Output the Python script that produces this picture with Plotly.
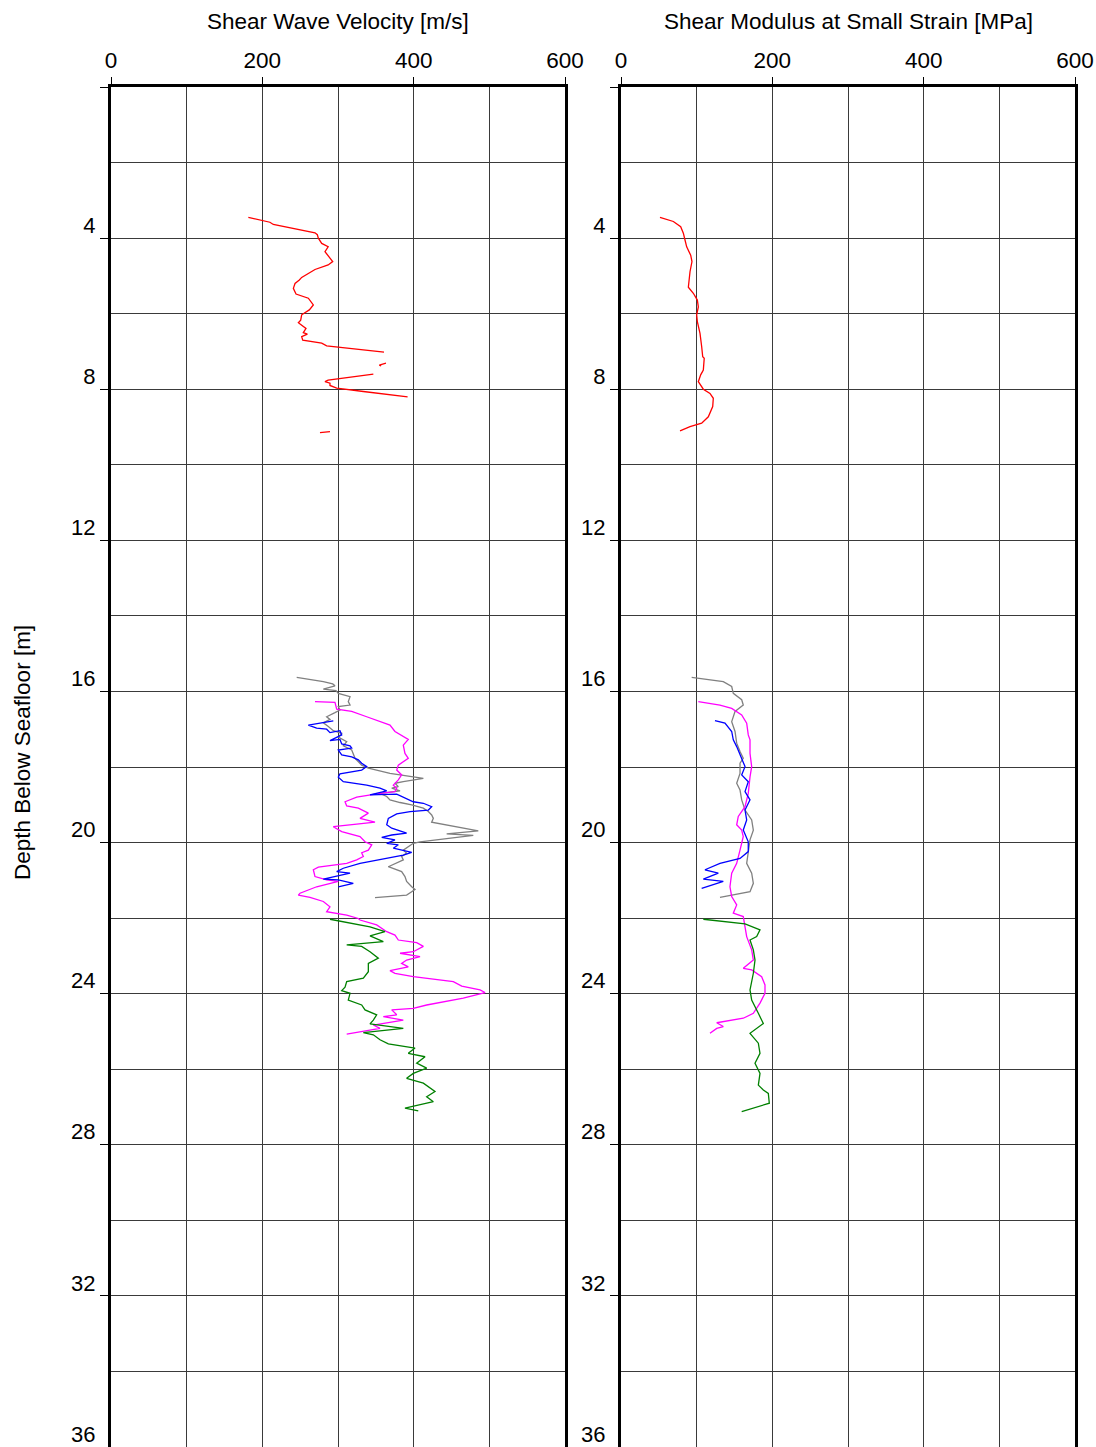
import plotly.graph_objects as go

# ---------------- DATA ----------------
# Shear wave velocity (left panel) [m/s] vs depth [m]
vs_red_depth = [3.45, 3.52, 3.58, 3.64, 3.86, 3.91, 4.00, 4.14, 4.23, 4.36, 4.51, 4.62, 4.71, 4.83, 4.91, 5.04, 5.11, 5.20, 5.33, 5.48, 5.59, 5.68, 5.77, 5.90, 6.03, 6.17, 6.24, 6.39, 6.50, 6.54, 6.61, 6.70, 6.78, 6.85, 7.02,
                None, 7.38, 7.36, 7.31,
                None, 7.60, 7.76, 7.80, 7.84, 7.90, 7.97, 8.06, 8.20,
                None, 9.15, 9.12]
vs_red = [181.5, 199, 210, 214.5, 269.6, 272.7, 274, 278.5, 287, 282.8, 289.4, 293, 287, 269.6, 263, 252, 248.9, 243.2, 241, 244.5, 260.8, 263.9, 267.4, 262.1, 252, 250.7, 247.6, 257.7, 254.2, 259.5, 252, 253.4, 278.5, 285, 360.8,
          None, 357, 354.6, 363.4,
          None, 346.7, 287, 282.8, 289.4, 289.4, 298.3, 333.5, 392,
          None, 276.2, 289.4]

vs_gray_depth = [15.63, 15.74, 15.80, 15.85, 15.94, 15.98, 16.05, 16.14, 16.27, 16.36, 16.40, 16.49, 16.56, 16.67, 16.74, 16.83, 16.93, 17.04, 17.11, 17.21, 17.33, 17.44, 17.55, 17.77, 17.95, 18.03, 18.17, 18.30, 18.39, 18.43, 18.52, 18.56, 18.63, 18.70, 18.78, 18.87, 18.94, 19.00, 19.09, 19.18, 19.27, 19.36, 19.46, 19.58, 19.69, 19.77, 19.81, 19.98, 20.02, 20.20, 20.28, 20.37, 20.46, 20.64, 20.77, 20.90, 21.03, 21.17, 21.24, 21.30, 21.39, 21.46]
vs_gray = [245.4, 280.6, 293, 296, 280.6, 297.4, 300.4, 315.9, 313.6, 315.9, 300.4, 302.6, 296, 285, 289.4, 280.6, 287.2, 293.8, 304.9, 300.4, 311.5, 307, 318.1, 322.5, 331.3, 340.1, 368.7, 412.8, 386.3, 375.3, 379.7, 371, 382, 355.5, 364.4, 368.7, 382, 397.4, 412.8, 419.4, 423.8, 426, 423.8, 456.9, 485.4, 443.6, 478.8, 408.4, 399.5, 386.3, 390.7, 384.1, 386.3, 366.5, 384.1, 388.5, 390.7, 397.4, 401.8, 397.4, 390.7, 348.9]

vs_blue_depth = [16.78, 16.82, 16.89, 16.97, 17.00, 17.09, 17.04, 17.15, 17.30, 17.27, 17.39, 17.44, 17.50, 17.55, 17.68, 17.73, 17.81, 17.90, 17.99, 18.08, 18.18, 18.27, 18.39, 18.48, 18.56, 18.63, 18.74, 18.72, 18.78, 18.92, 18.96, 19.05, 19.14, 19.18, 19.24, 19.36, 19.53, 19.62, 19.75, 19.80, 19.86, 19.93, 20.02, 20.06, 20.15, 20.26, 20.33, 20.37, 20.46, 20.55, 20.68, 20.77, 20.81, 20.97, 20.99, 21.08, 21.17]
vs_blue = [293.8, 282.8, 260.8, 271.8, 285, 289.4, 302.6, 304.9, 289.4, 302.6, 304.9, 315.9, 318.1, 300.4, 304.9, 318.1, 326.9, 331.3, 337.9, 331.3, 302.6, 300.4, 307, 337.9, 355.5, 364.4, 342.3, 377.6, 384.1, 399.5, 412.8, 423.8, 419.4, 395.2, 377.6, 366.5, 364.4, 371, 390.7, 371, 357.8, 375.3, 364.4, 379.7, 373.1, 397.4, 386.3, 375.3, 355.5, 329.1, 307, 298.3, 315.9, 280.6, 300.4, 320.2, 300.4]

vs_mag_depth = [16.27, 16.29, 16.47, 16.53, 16.67, 16.89, 17.06, 17.27, 17.42, 17.64, 17.77, 17.95, 18.08, 18.21, 18.34, 18.48, 18.56, 18.65, 18.70, 18.74, 18.80, 18.92, 19.03, 19.09, 19.22, 19.36, 19.46, 19.51, 19.58, 19.71, 19.77, 19.84, 19.98, 20.06, 20.20, 20.27, 20.37, 20.46, 20.55, 20.65, 20.72, 20.90, 20.99, 21.03, 21.17, 21.34, 21.39, 21.45, 21.56, 21.70, 21.83, 21.92, 22.01, 22.05, 22.18, 22.36, 22.45, 22.58, 22.65, 22.75, 22.89, 22.93, 23.02, 23.11, 23.20, 23.29, 23.39, 23.46, 23.55, 23.68, 23.80, 23.90, 23.97, 24.12, 24.30, 24.39, 24.43, 24.56, 24.61, 24.70, 24.83, 24.92, 25.07]
vs_mag = [269.6, 296, 298.3, 318.1, 337.9, 368.7, 375.3, 392.9, 386.3, 388.5, 392.9, 379.7, 377.6, 384.1, 379.7, 373.1, 377.6, 375.3, 355.5, 340.1, 324.7, 309.3, 311.5, 326.9, 340.1, 329.1, 348.9, 324.7, 293.8, 304.9, 315.9, 329.1, 335.7, 344.6, 340.1, 331.3, 333.5, 324.7, 311.5, 274, 267.4, 269.6, 285, 300.4, 271.8, 249.8, 247.6, 263, 280.6, 289.4, 285, 311.5, 326.9, 329.1, 351.1, 364.4, 375.3, 379.7, 404, 412.8, 399.5, 382, 408.4, 390.7, 384.1, 392.9, 368.7, 375.3, 399.5, 452.4, 463.5, 487.7, 494.3, 465.6, 417.2, 399.5, 371, 377.6, 359.9, 386.3, 346.7, 355.5, 311.5]

vs_green_depth = [22.03, 22.09, 22.23, 22.36, 22.47, 22.62, 22.71, 22.75, 22.89, 23.06, 23.20, 23.42, 23.59, 23.68, 23.83, 23.92, 23.99, 24.17, 24.30, 24.43, 24.56, 24.70, 24.80, 24.92, 25.03, 25.09, 25.22, 25.33, 25.44, 25.58, 25.67, 25.84, 25.97, 26.11, 26.24, 26.37, 26.59, 26.73, 26.86, 27.03, 27.10]
vs_green = [289.4, 304.9, 342.3, 362.1, 342.3, 359.9, 311.5, 331.3, 342.3, 353.3, 340.1, 340.1, 333.5, 311.5, 309.3, 304.9, 315.9, 313.6, 331.3, 335.7, 351.1, 346.7, 342.3, 386.3, 333.5, 346.7, 355.5, 366.5, 401.8, 392.9, 415, 404, 417.2, 399.5, 390.7, 412.8, 428.2, 417.2, 426, 388.5, 406.1]

# Shear modulus at small strain (right panel) [MPa] vs depth [m]
g_red_depth = [3.45, 3.56, 3.70, 3.87, 4.05, 4.23, 4.45, 4.62, 4.89, 5.11, 5.30, 5.46, 5.64, 5.82, 6.03, 6.21, 6.52, 6.87, 7.14, 7.18, 7.49, 7.62, 7.80, 8.00, 8.11, 8.24, 8.46, 8.73, 8.90, 8.99, 9.10]
g_red = [51.5, 69.2, 78.9, 82.4, 84.6, 86.8, 92.1, 93.8, 91.2, 90.3, 89, 95.6, 100.9, 102.2, 100, 100.9, 104.4, 106.6, 108, 110, 108.8, 105.3, 102.2, 108.8, 117.6, 122, 121.2, 115.4, 106.6, 91.2, 78]

g_gray_depth = [15.63, 15.74, 15.87, 16.05, 16.22, 16.36, 16.53, 16.80, 17.06, 17.37, 17.59, 17.77, 17.90, 18.17, 18.43, 18.61, 18.87, 19.14, 19.40, 19.67, 19.93, 20.24, 20.55, 20.81, 21.08, 21.30, 21.45]
g_gray = [93.4, 135.2, 146.3, 148.4, 159.5, 161.6, 150.7, 146.3, 150.7, 152.9, 157.3, 161.6, 157.3, 157.3, 152.9, 157.3, 159.5, 163.9, 172.7, 174.9, 170.5, 168.2, 166.1, 172.7, 174.9, 170.5, 130.8]

g_blue_depth = [16.77, 16.84, 17.06, 17.28, 17.46, 17.68, 17.99, 18.21, 18.39, 18.65, 18.87, 19.14, 19.40, 19.67, 19.98, 20.24, 20.42, 20.55, 20.72, 20.81, 20.97, 21.03, 21.21]
g_blue = [124.2, 137.4, 146.3, 148.4, 152.9, 157.3, 163.9, 159.5, 168.2, 163.9, 170.5, 163.9, 166.1, 161.6, 168.2, 168.2, 157.3, 130.8, 111, 128.6, 108.8, 135.2, 106.6]

g_mag_depth = [16.27, 16.36, 16.45, 16.62, 16.84, 17.15, 17.28, 17.64, 17.99, 18.26, 18.70, 19.05, 19.31, 19.53, 19.67, 19.84, 20.20, 20.55, 20.81, 21.17, 21.43, 21.65, 21.87, 21.96, 22.23, 22.49, 22.84, 23.11, 23.33, 23.37, 23.55, 23.77, 23.99, 24.25, 24.52, 24.65, 24.77, 24.87, 24.92, 25.05]
g_mag = [102.2, 130.8, 146.3, 159.5, 166.1, 168.2, 170.5, 170.5, 172.7, 170.5, 168.2, 163.9, 155, 152.9, 159.5, 161.6, 157.3, 152.9, 146.3, 144, 146.3, 152.9, 148.4, 161.6, 163.9, 166.1, 172.7, 174.9, 161.6, 172.7, 185.9, 190.3, 190.3, 183.7, 174.9, 161.6, 126.5, 135.2, 126.5, 117.6]

g_green_depth = [22.03, 22.15, 22.31, 22.49, 22.58, 22.84, 23.11, 23.46, 23.90, 24.17, 24.52, 24.79, 25.05, 25.31, 25.58, 25.84, 26.11, 26.42, 26.55, 26.64, 26.90, 27.12]
g_green = [108.8, 163.9, 183.7, 179.3, 170.5, 174.9, 177.1, 174.9, 170.5, 172.7, 181.5, 188.1, 170.5, 181.5, 183.7, 177.1, 183.7, 181.5, 188.1, 194.7, 196, 159.5]

x_ticks = [0, 200, 400, 600]
y_ticks = [0, 4, 8, 12, 16, 20, 24, 28, 32, 36]
y_ticktext = [""] + [str(v) for v in y_ticks[1:]]

left_title = "Shear Wave Velocity [m/s]"
right_title = "Shear Modulus at Small Strain [MPa]"
y_title = "Depth Below Seafloor [m]"

# ---------------- FIGURE ----------------
W, H = 1096, 1447
FONT = "Liberation Sans, Arial, sans-serif"

fig = go.Figure()

left_series = [(vs_red, vs_red_depth, "#ff0000"), (vs_gray, vs_gray_depth, "#808080"),
               (vs_mag, vs_mag_depth, "#ff00ff"), (vs_blue, vs_blue_depth, "#0000ff"),
               (vs_green, vs_green_depth, "#008000")]
right_series = [(g_red, g_red_depth, "#ff0000"), (g_gray, g_gray_depth, "#808080"),
                (g_mag, g_mag_depth, "#ff00ff"), (g_blue, g_blue_depth, "#0000ff"),
                (g_green, g_green_depth, "#008000")]

for xs, ys, c in left_series:
    fig.add_trace(go.Scatter(x=xs, y=ys, mode="lines", line=dict(color=c, width=1.3),
                             xaxis="x", yaxis="y", showlegend=False, connectgaps=False))
for xs, ys, c in right_series:
    fig.add_trace(go.Scatter(x=xs, y=ys, mode="lines", line=dict(color=c, width=1.3),
                             xaxis="x2", yaxis="y2", showlegend=False, connectgaps=False))

def px_x(p):
    return p / W

def px_y(p):
    return 1 - p / H

grid_col = "#3a3a3a"
xaxis_common = dict(range=[0, 600], side="top", tickvals=x_ticks, ticks="outside", ticklen=7,
                    tickcolor="black", tickwidth=1, showline=True, linecolor="black", linewidth=3,
                    mirror=True, showgrid=True, gridcolor=grid_col, gridwidth=1, zeroline=False,
                    automargin=False, ticklabeloverflow="allow",
                    tickfont=dict(family=FONT, size=22.5, color="black"),
                    minor=dict(dtick=100, showgrid=True, gridcolor=grid_col, gridwidth=1, ticks=""))
yaxis_common = dict(range=[36, 0], tickvals=y_ticks, ticktext=y_ticktext, ticks="outside", ticklen=8,
                    tickcolor="black", tickwidth=1, showline=True, linecolor="black", linewidth=3,
                    mirror=True, showgrid=True, gridcolor=grid_col, gridwidth=1, zeroline=False,
                    automargin=False, ticklabeloverflow="allow",
                    tickfont=dict(family=FONT, size=22, color="black"), ticklabelshift=13,
                    minor=dict(dtick=2, showgrid=True, gridcolor=grid_col, gridwidth=1, ticks=""))

y_dom = [0, px_y(87)]
fig.update_layout(
    width=W, height=H,
    autosize=False,
    margin=dict(l=0, r=0, t=0, b=0, pad=0, autoexpand=False),
    paper_bgcolor="white", plot_bgcolor="white",
    xaxis=dict(domain=[px_x(111), px_x(565)], anchor="y", **xaxis_common),
    yaxis=dict(domain=y_dom, anchor="x", **yaxis_common),
    xaxis2=dict(domain=[px_x(621), px_x(1075)], anchor="y2", **xaxis_common),
    yaxis2=dict(domain=y_dom, anchor="x2", **yaxis_common),
    font=dict(family=FONT, size=22, color="black"),
)

fig.add_annotation(text=left_title, x=px_x(338), y=px_y(21), xref="paper", yref="paper",
                   showarrow=False, font=dict(family=FONT, size=22.5, color="black"),
                   xanchor="center", yanchor="middle")
fig.add_annotation(text=right_title, x=px_x(848), y=px_y(21), xref="paper", yref="paper",
                   showarrow=False, font=dict(family=FONT, size=22.5, color="black"),
                   xanchor="center", yanchor="middle")
fig.add_annotation(text=y_title, x=px_x(22), y=px_y(753), xref="paper", yref="paper",
                   showarrow=False, textangle=-90, font=dict(family=FONT, size=22.5, color="black"),
                   xanchor="center", yanchor="middle")

# remove the default page margin / scrollbars so the figure sits at the window origin
page_css = ("document.body.style.margin='0';document.body.style.padding='0';"
            "document.body.style.overflow='hidden';"
            "document.documentElement.style.overflow='hidden';")

fig.write_html("out.html", config={"responsive": False, "displayModeBar": False},
               post_script=page_css)
